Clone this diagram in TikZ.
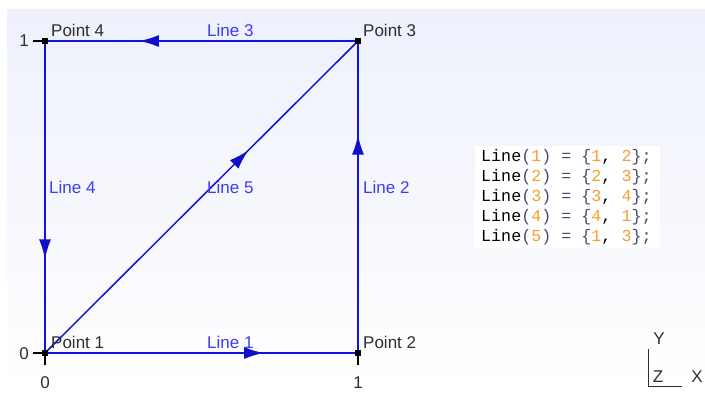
\documentclass[tikz,border=0pt]{standalone}
\usepackage{fontspec}
\setmainfont{Liberation Sans}
\setmonofont{Liberation Mono}
\usetikzlibrary{
	arrows.meta,
	decorations.markings,
	positioning
}
\definecolor{linecol}{HTML}{1212E2}
\definecolor{tipcol}{HTML}{1010C8}
\definecolor{labcol}{HTML}{3C3CF2}
\definecolor{txtcol}{HTML}{2E2E2E}
\definecolor{numcol}{HTML}{F4A030}
\definecolor{brcol}{HTML}{4A4A6E}
\definecolor{bgtop}{HTML}{EEF0FC}
\newcommand{\nm}[1]{\textcolor{numcol}{#1}}
\newcommand{\br}[1]{\textcolor{brcol}{#1}}

\tikzset{
	geoline/.style={draw=linecol, line width=2pt, postaction={decorate},
		decoration={markings, mark=at position #1 with {\arrow[tipcol]{Latex[length=20pt,width=12pt]}}}},
	geoline/.default=0.7,
	pt/.style={rectangle, fill=black, minimum size=6pt, inner sep=0pt},
	ptlab/.style={anchor=base west, inner sep=0pt, text=txtcol, font=\fontsize{17}{20}\selectfont},
	linelab/.style={anchor=base west, inner sep=0pt, text=labcol, font=\fontsize{17}{20}\selectfont},
	axlab/.style={inner sep=0pt, text=txtcol, font=\fontsize{17}{20}\selectfont},
	code/.style={anchor=base west, inner sep=0pt, font=\ttfamily\fontsize{16.7}{20}\selectfont}
}

\begin{document}
\begin{tikzpicture}[x=1pt, y=-1pt]
	
	\useasboundingbox (0,0) rectangle (705,392);
	\fill[top color=bgtop, bottom color=white] (7,9) rectangle (705,392);
	
	% points of the square
	\coordinate (p1) at (45,353);
	\coordinate (p2) at (358,353);
	\coordinate (p3) at (358,41);
	\coordinate (p4) at (45,41);
	
	% ticks
	\draw[line width=1.2pt] (p4) -- ++(-12,0);
	\draw[line width=1.2pt] (p1) -- ++(-12,0);
	\draw[line width=1.2pt] (p1) -- ++(0,12);
	\draw[line width=1.2pt] (p2) -- ++(0,12);
	\node[axlab] (t1) at (24,41) {1};
	\node[axlab] (t0) at (24,354) {0};
	\node[axlab] (b0) at (45,383) {0};
	\node[axlab] (b1) at (358,383) {1};
	
	% lines
	\draw[geoline] (p1) -- (p2);
	\draw[geoline] (p2) -- (p3);
	\draw[geoline] (p3) -- (p4);
	\draw[geoline] (p4) -- (p1);
	\draw[geoline=0.65, line width=1.5pt] (p1) -- (p3);
	
	\foreach \p in {1,...,4}{
		\node[pt] (q\p) at (p\p) {};
	}
	
	\node[ptlab] (n1) at (51,348) {Point 1};
	\node[ptlab] (n2) at (363,348) {Point 2};
	\node[ptlab] (n3) at (363,36) {Point 3};
	\node[ptlab] (n4) at (51,36) {Point 4};
	
	\node[linelab] (l1) at (207,348) {Line 1};
	\node[linelab] (l2) at (363,193) {Line 2};
	\node[linelab] (l3) at (207,36) {Line 3};
	\node[linelab] (l4) at (49,193) {Line 4};
	\node[linelab] (l5) at (207,193) {Line 5};
	
	% script
	\fill[white] (475,146) rectangle (660,248);
	\foreach \i/\a/\b in {1/1/2, 2/2/3, 3/3/4, 4/4/1, 5/1/3}{
		\node[code] (c\i) at (481,141+20*\i) {Line\br{(}\nm{\i}\br{)} \br{=} \br{\{}\nm{\a}, \nm{\b}\br{\}}\br{;}};
	}
	
	% axes
	\coordinate (o) at (648,386);
	\draw[txtcol, line width=1pt] (o) -- ++(0,-37);
	\draw[txtcol, line width=1pt] (o) -- ++(34,0);
	\node[axlab] (ay) at (659,339) {Y};
	\node[axlab] (az) at (658,377) {Z};
	\node[axlab] (ax) at (697,377) {X};
	
\end{tikzpicture}
\end{document}
